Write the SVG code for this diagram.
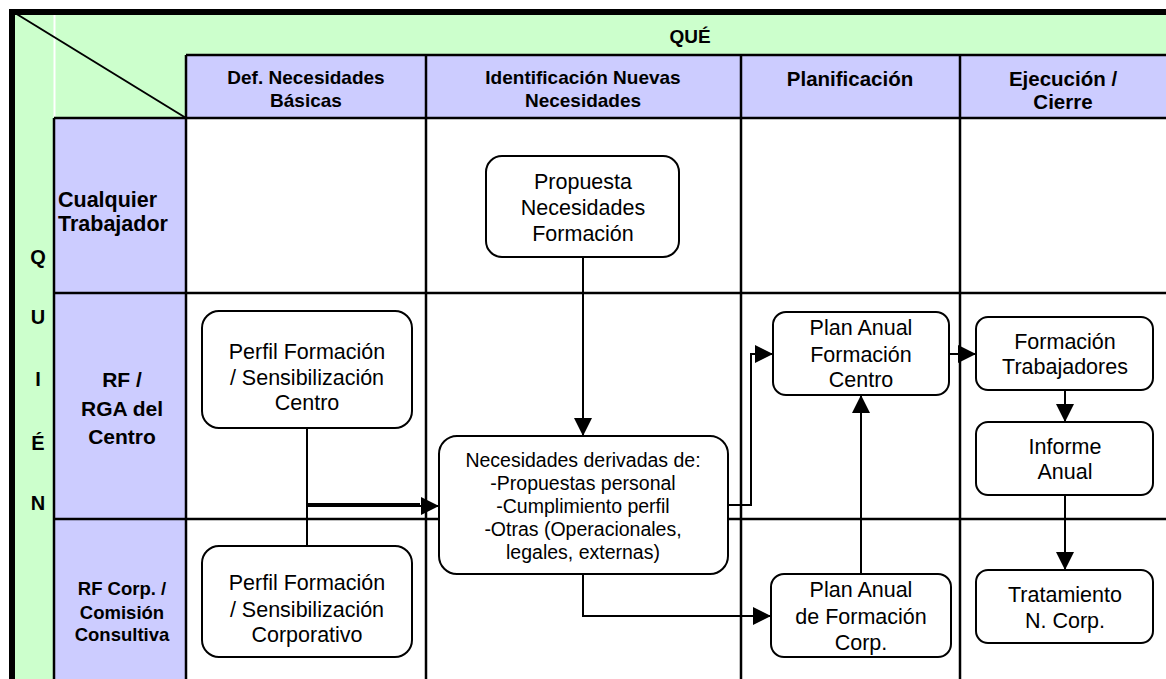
<svg xmlns="http://www.w3.org/2000/svg" width="1166" height="679" viewBox="0 0 1166 679">
<style>
.grid{stroke:#000;stroke-width:2.5;fill:none}
.node{fill:#fff;stroke:#000;stroke-width:2}
.t{font-family:"Liberation Sans",Arial,sans-serif;fill:#000;text-anchor:middle}
.s{text-anchor:start}
.b{font-weight:bold}
.c{stroke:#000;stroke-width:2;fill:none;marker-end:url(#ah)}
.cn{stroke:#000;stroke-width:2;fill:none}
</style>
<defs>
<marker id="ah" markerUnits="userSpaceOnUse" markerWidth="20" markerHeight="20" refX="18" refY="9" orient="auto">
<path d="M0,0 L18,9 L0,18 Z" fill="#000"/>
</marker>
</defs>
<rect width="1166" height="679" fill="#fff"/>
<g id="background">
<rect x="12" y="12" width="1154" height="106" fill="#CCFFCC"/>
<rect x="12" y="12" width="42" height="667" fill="#CCFFCC"/>
<rect x="186" y="55" width="980" height="63" fill="#CCCCFF"/>
<rect x="54" y="118" width="132" height="561" fill="#CCCCFF"/>
<line x1="54.5" y1="15" x2="54.5" y2="117" stroke="#fff" stroke-width="2"/>
<line x1="15" y1="13" x2="186" y2="118" stroke="#000" stroke-width="2"/>
</g>
<g id="grid">
<line class="grid" x1="186" y1="55" x2="1166" y2="55"/>
<line class="grid" x1="54" y1="118" x2="1166" y2="118"/>
<line class="grid" x1="54" y1="293" x2="1166" y2="293"/>
<line class="grid" x1="54" y1="519" x2="1166" y2="519"/>
<line class="grid" x1="54" y1="118" x2="54" y2="679"/>
<line class="grid" x1="186" y1="55" x2="186" y2="679"/>
<line class="grid" x1="426" y1="55" x2="426" y2="679"/>
<line class="grid" x1="741" y1="55" x2="741" y2="679"/>
<line class="grid" x1="960" y1="55" x2="960" y2="679"/>
<path d="M12,679 V12 H1166" stroke="#000" stroke-width="6" fill="none"/>
</g>
<g id="headers">
<text class="t b" x="690" y="43" font-size="19">QUÉ</text>
<text class="t b" x="306" y="84" font-size="19">Def. Necesidades</text>
<text class="t b" x="306" y="107" font-size="19">Básicas</text>
<text class="t b" x="583" y="84" font-size="19">Identificación Nuevas</text>
<text class="t b" x="583" y="107" font-size="19">Necesidades</text>
<text class="t b" x="850" y="86" font-size="20.5">Planificación</text>
<text class="t b" x="1063" y="86" font-size="20.5">Ejecución /</text>
<text class="t b" x="1063" y="109" font-size="20.5">Cierre</text>
</g>
<g id="quien">
<text class="t b" x="38" y="264" font-size="20">Q</text>
<text class="t b" x="38" y="324" font-size="20">U</text>
<text class="t b" x="38" y="386" font-size="20">I</text>
<text class="t b" x="38" y="450" font-size="20">É</text>
<text class="t b" x="38" y="510" font-size="20">N</text>
</g>
<g id="lanes">
<text class="t s b" x="58" y="207" font-size="21.5">Cualquier</text>
<text class="t s b" x="58" y="231" font-size="21.5">Trabajador</text>
<text class="t b" x="122" y="387" font-size="21">RF /</text>
<text class="t b" x="122" y="416" font-size="21">RGA del</text>
<text class="t b" x="122" y="444" font-size="21">Centro</text>
<text class="t b" x="122" y="595" font-size="18.5">RF Corp. /</text>
<text class="t b" x="122" y="619" font-size="18.5">Comisión</text>
<text class="t b" x="122" y="641" font-size="18.5">Consultiva</text>
</g>
<g id="connectors">
<path class="c" d="M583,257 V436"/>
<path class="cn" d="M307,428 V504 H420"/>
<path class="c" d="M307,546 V506 H439"/>
<path class="c" d="M728,505 H751 V354 H773"/>
<path class="c" d="M583,574 V616 H771"/>
<path class="c" d="M861,574 V395"/>
<path class="c" d="M949,354 H976"/>
<path class="c" d="M1065,390 V422"/>
<path class="c" d="M1065,495 V570"/>
</g>
<g id="n-propuesta">
<rect class="node" x="486" y="156" width="193" height="101" rx="16"/>
<text class="t" x="583" y="189" font-size="21.5">Propuesta</text>
<text class="t" x="583" y="215" font-size="21.5">Necesidades</text>
<text class="t" x="583" y="241" font-size="21.5">Formación</text>
</g>
<g id="n-perfil-centro">
<rect class="node" x="202" y="311" width="210" height="117" rx="17"/>
<text class="t" x="307" y="359" font-size="21.5">Perfil Formación</text>
<text class="t" x="307" y="385" font-size="21.5">/ Sensibilización</text>
<text class="t" x="307" y="410" font-size="21.5">Centro</text>
</g>
<g id="n-perfil-corp">
<rect class="node" x="202" y="546" width="210" height="111" rx="17"/>
<text class="t" x="307" y="590" font-size="21.5">Perfil Formación</text>
<text class="t" x="307" y="617" font-size="21.5">/ Sensibilización</text>
<text class="t" x="307" y="642" font-size="21.5">Corporativo</text>
</g>
<g id="n-necesidades">
<rect class="node" x="439" y="436" width="289" height="138" rx="18"/>
<text class="t" x="583" y="467" font-size="19.5">Necesidades derivadas de:</text>
<text class="t" x="583" y="490" font-size="19.5">-Propuestas personal</text>
<text class="t" x="583" y="513" font-size="19.5">-Cumplimiento perfil</text>
<text class="t" x="583" y="536" font-size="19.5">-Otras (Operacionales,</text>
<text class="t" x="583" y="559" font-size="19.5">legales, externas)</text>
</g>
<g id="n-plan-centro">
<rect class="node" x="773" y="312" width="176" height="83" rx="13"/>
<text class="t" x="861" y="335" font-size="21.5">Plan Anual</text>
<text class="t" x="861" y="362" font-size="21.5">Formación</text>
<text class="t" x="861" y="387" font-size="21.5">Centro</text>
</g>
<g id="n-plan-corp">
<rect class="node" x="771" y="574" width="180" height="83" rx="13"/>
<text class="t" x="861" y="597" font-size="21.5">Plan Anual</text>
<text class="t" x="861" y="624" font-size="21.5">de Formación</text>
<text class="t" x="861" y="650" font-size="21.5">Corp.</text>
</g>
<g id="n-formacion">
<rect class="node" x="976" y="317" width="177" height="73" rx="12"/>
<text class="t" x="1065" y="349" font-size="21.5">Formación</text>
<text class="t" x="1065" y="374" font-size="21.5">Trabajadores</text>
</g>
<g id="n-informe">
<rect class="node" x="976" y="422" width="177" height="73" rx="12"/>
<text class="t" x="1065" y="454" font-size="21.5">Informe</text>
<text class="t" x="1065" y="479" font-size="21.5">Anual</text>
</g>
<g id="n-tratamiento">
<rect class="node" x="976" y="570" width="177" height="73" rx="12"/>
<text class="t" x="1065" y="602" font-size="21.5">Tratamiento</text>
<text class="t" x="1065" y="628" font-size="21.5">N. Corp.</text>
</g>
</svg>
